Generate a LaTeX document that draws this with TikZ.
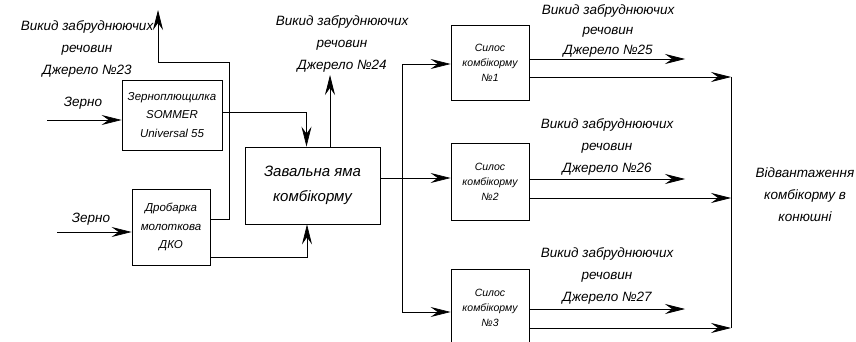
\documentclass[tikz,border=0pt]{standalone}
\usepackage{fontspec}
\setmainfont{Liberation Sans}
\usetikzlibrary{arrows.meta}

\begin{document}
\begin{tikzpicture}[x=1pt, y=-1pt, line width=0.7pt,
        arr/.style={-{Stealth[length=20pt,width=10pt,inset=7pt]}},
        blk/.style={draw, rectangle, inner sep=1pt, align=center},
        lbl/.style={align=center, font=\fontsize{13.5}{22}\selectfont\itshape},
        txtmid/.style={font=\fontsize{11.5}{18.5}\selectfont\itshape},
        txtbig/.style={font=\fontsize{15}{25}\selectfont\itshape},
        txtsml/.style={font=\fontsize{10.5}{15}\selectfont\itshape}]
        \useasboundingbox (0,0) rectangle (856,342);

        % blocks
        \node[blk, txtmid, minimum width=100, minimum height=70] (zernopl) at (172,115)
            {Зерноплющилка\\SOMMER\\Universal 55};
        \node[blk, txtmid, minimum width=78, minimum height=76] (drobarka) at (171,227)
            {Дробарка\\молоткова\\ДКО};
        \node[blk, txtbig, minimum width=135, minimum height=77] (yama) at (312.5,185.5)
            {Завальна яма\\комбікорму};
        \node[blk, txtsml, minimum width=78, minimum height=75] (silos1) at (490,62.5)
            {Силос\\комбікорму\\№1};
        \node[blk, txtsml, minimum width=78, minimum height=77] (silos2) at (490,181.5)
            {Силос\\комбікорму\\№2};
        \node[blk, txtsml, minimum width=78, minimum height=77] (silos3) at (490,307.5)
            {Силос\\комбікорму\\№3};

        % labels
        \node[lbl] (zerno1) at (83,103) {Зерно};
        \node[lbl] (zerno2) at (91,219) {Зерно};
        \node[lbl] (vykyd23) at (87,49) {Викид забруднюючих\\речовин\\Джерело №23};
        \node[lbl] (vykyd24) at (342,44) {Викид забруднюючих\\речовин\\Джерело №24};
        \node[lbl, font=\fontsize{13.5}{20}\selectfont\itshape] (vykyd25) at (608,31)
            {Викид забруднюючих\\речовин\\Джерело №25};
        \node[lbl] (vykyd26) at (607,147) {Викид забруднюючих\\речовин\\Джерело №26};
        \node[lbl] (vykyd27) at (607,276) {Викид забруднюючих\\речовин\\Джерело №27};
        \node[lbl] (vidvant) at (805,195) {Відвантаження\\комбікорму в\\конюшні};

        % free ends
        \coordinate (in1) at (47,120);
        \coordinate (in2) at (57,232);
        \coordinate (bend23) at (229,62);
        \coordinate (e23) at (158,10);
        \coordinate (e24) at (330,75);
        \coordinate (split) at (402,178);
        \coordinate (e25) at (685,59);
        \coordinate (e26) at (685,179);
        \coordinate (e27) at (685,309);
        \coordinate (col1) at (731,77);
        \coordinate (col2) at (731,198);
        \coordinate (col3) at (731,328);

        \draw[arr] (in1) -- (in1 -| zernopl.west);
        \draw[arr] (in2) -- (in2 -| drobarka.west);

        \draw[arr] ([yshift=3]zernopl.east) -| ([xshift=-6]yama.north);
        \draw[arr] ([yshift=-30]drobarka.east) -| ([xshift=-5.5]yama.south);
        \draw[arr] ([yshift=8]drobarka.east) -| (bend23) -| (e23);
        \draw[arr] (e24 |- yama.north) -- (e24);

        \draw ([yshift=7.5]yama.east) -- (split);
        \draw[arr] (split) |- ([yshift=-1.5]silos1.west);
        \draw[arr] (split) -- (split -| silos2.west);
        \draw[arr] (split) |- ([yshift=-4.5]silos3.west);

        \draw[arr] (silos1.east |- e25) -- (e25);
        \draw[arr] (silos2.east |- e26) -- (e26);
        \draw[arr] (silos3.east |- e27) -- (e27);

        \draw (col1) -- (col3);
        \draw[arr] (silos1.east |- col1) -- (col1);
        \draw[arr] (silos2.east |- col2) -- (col2);
        \draw[arr] (silos3.east |- col3) -- (col3);
\end{tikzpicture}
\end{document}
